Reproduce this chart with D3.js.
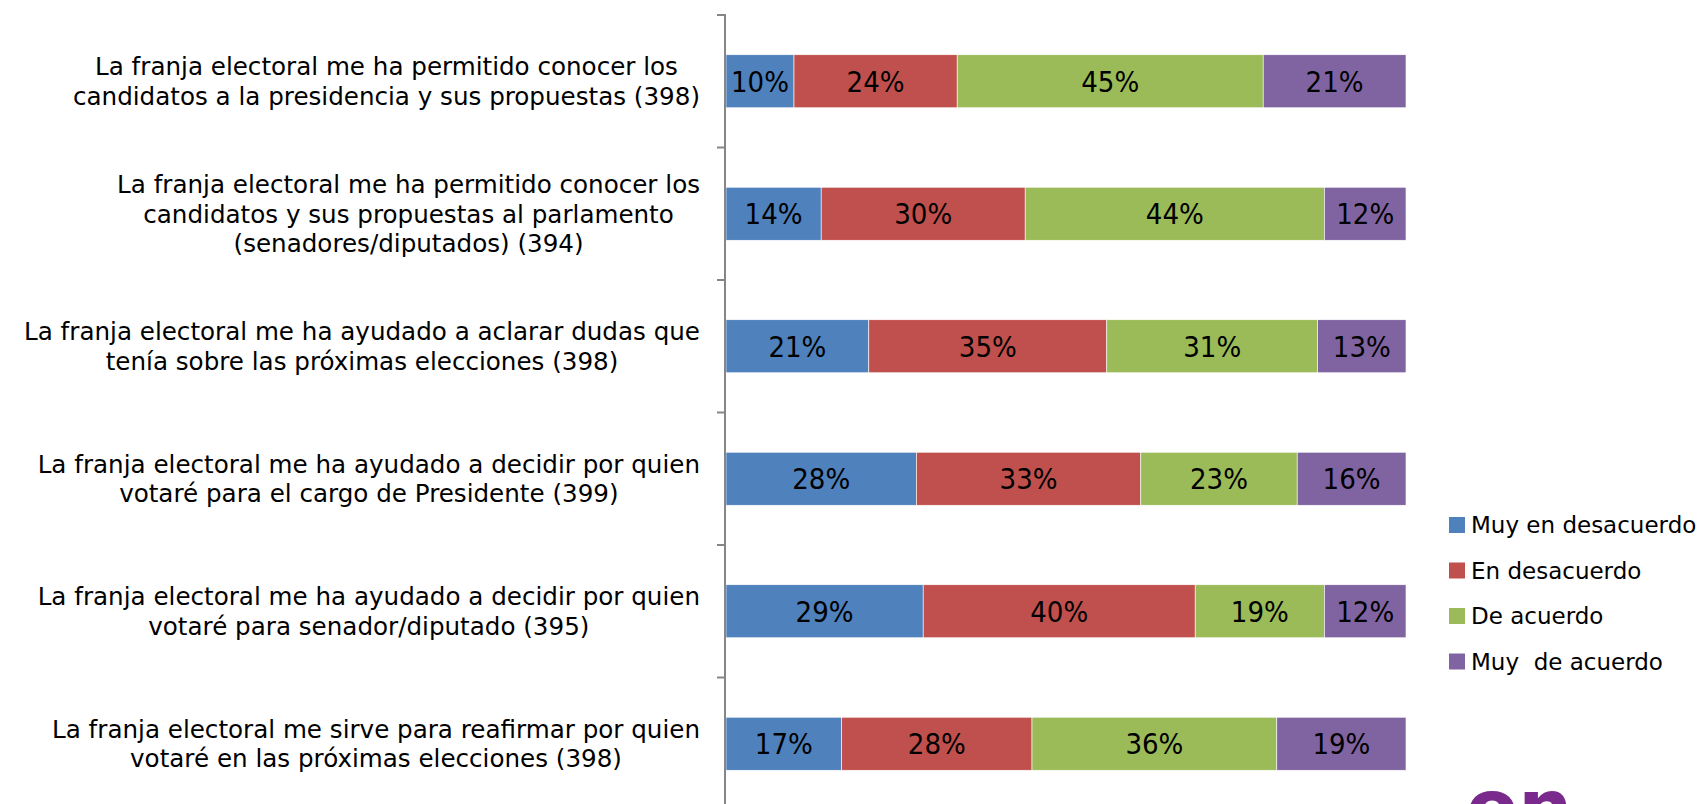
<!DOCTYPE html>
<html>
<head>
<meta charset="utf-8">
<script src="https://cdn.jsdelivr.net/npm/d3@7"></script>
<style>
  body { margin: 0; background: #fff; }
  svg { display: block; }
  .cat-label { font-family: "DejaVu Sans", sans-serif; font-size: 24.6px; fill: #000; }
  .legend text { font-family: "DejaVu Sans", sans-serif; font-size: 23px; fill: #000; white-space: pre; }
  .pct { font-family: "Liberation Sans Narrow", "DejaVu Sans Condensed", sans-serif; font-size: 29px; fill: #000; }
</style>
</head>
<body>
<script>
// question labels, one entry per line
const categories = [
  ["La franja electoral me ha permitido conocer los", "candidatos a la presidencia y sus propuestas (398)"],
  ["La franja electoral me ha permitido conocer los", "candidatos y sus propuestas al parlamento", "(senadores/diputados) (394)"],
  ["La franja electoral me ha ayudado a aclarar dudas que", "tenía sobre las próximas elecciones (398)"],
  ["La franja electoral me ha ayudado a decidir por quien", "votaré para el cargo de Presidente (399)"],
  ["La franja electoral me ha ayudado a decidir por quien", "votaré para senador/diputado (395)"],
  ["La franja electoral me sirve para reafirmar por quien", "votaré en las próximas elecciones (398)"]
];

const seriesNames = ["Muy en desacuerdo", "En desacuerdo", "De acuerdo", "Muy  de acuerdo"];
const muyDesacuerdo = [10, 14, 21, 28, 29, 17];
const desacuerdo = [24, 30, 35, 33, 40, 28];
const deAcuerdo = [45, 44, 31, 23, 19, 36];
const muyDeAcuerdo = [21, 12, 13, 16, 12, 19];

const colors = ["#4F81BD", "#C0504D", "#9BBB59", "#8064A2"];

const width = 1700, height = 804;

const rows = categories.map((c, i) => ({
  key: i,
  lines: c,
  values: [muyDesacuerdo[i], desacuerdo[i], deAcuerdo[i], muyDeAcuerdo[i]]
}));

const svg = d3.select("body")
  .append("svg")
  .attr("width", width)
  .attr("height", height);

const y = d3.scaleBand()
  .domain(rows.map(d => d.key))
  .range([15, 810])
  .paddingInner(0.6)
  .paddingOuter(0.3);

const x = d3.scaleLinear()
  .domain([0, 100])
  .range([726, 1406]);

// stacked segments
const stack = d3.stack()
  .keys([0, 1, 2, 3])
  .value((d, k) => d.values[k]);

const layers = stack(rows);

svg.append("g")
  .selectAll("g")
  .data(layers)
  .join("g")
  .attr("fill", (d, i) => colors[i])
  .selectAll("rect")
  .data(d => d)
  .join("rect")
  .attr("x", d => x(d[0]))
  .attr("y", d => y(d.data.key))
  .attr("width", d => x(d[1]) - x(d[0]))
  .attr("height", y.bandwidth())
  .attr("stroke", "#fff")
  .attr("stroke-width", 0.6);

// percent labels
svg.append("g")
  .selectAll("g")
  .data(layers)
  .join("g")
  .selectAll("text")
  .data(d => d)
  .join("text")
  .attr("class", "pct")
  .attr("x", d => (x(d[0]) + x(d[1])) / 2)
  .attr("y", d => y(d.data.key) + y.bandwidth() / 2)
  .attr("dy", "0.36em")
  .attr("text-anchor", "middle")
  .text(d => `${d[1] - d[0]}%`);

// category axis: line with ticks between bands
const axis = svg.append("g").attr("stroke", "#868686").attr("stroke-width", 2);
axis.append("line")
  .attr("x1", 725).attr("x2", 725)
  .attr("y1", 14).attr("y2", height);
const step = y.step();
const bounds = d3.range(rows.length + 1).map(i => y.range()[0] + i * step);
axis.selectAll(".tick")
  .data(bounds)
  .join("line")
  .attr("x1", 717).attr("x2", 725)
  .attr("y1", d => d).attr("y2", d => d);

// category labels: block right-aligned, lines centered within block
const lineH = 29.5;
const labelRight = 700;
const labelG = svg.append("g");
rows.forEach(r => {
  const g = labelG.append("g");
  const cy = y(r.key) + y.bandwidth() / 2;
  const top = cy - (r.lines.length - 1) * lineH / 2;
  const texts = g.selectAll("text")
    .data(r.lines)
    .join("text")
    .attr("class", "cat-label")
    .attr("y", (d, i) => top + i * lineH)
    .attr("dy", "0.36em")
    .attr("text-anchor", "middle")
    .text(d => d);
  let maxW = 0;
  texts.each(function() { maxW = Math.max(maxW, this.getComputedTextLength()); });
  texts.attr("x", labelRight - maxW / 2);
});

// legend
const legend = svg.append("g").attr("class", "legend");
const legendItem = legend.selectAll("g")
  .data(seriesNames)
  .join("g")
  .attr("transform", (d, i) => `translate(1449, ${525 + i * 45.5})`);
legendItem.append("rect")
  .attr("x", 0).attr("y", -8)
  .attr("width", 16).attr("height", 16)
  .attr("fill", (d, i) => colors[i]);
legendItem.append("text")
  .attr("x", 22)
  .attr("dy", "0.36em")
  .text(d => d);

// logo, cut off at bottom edge
svg.append("text")
  .attr("x", 1466)
  .attr("y", 834)
  .attr("font-family", "DejaVu Sans, sans-serif")
  .attr("font-weight", "bold")
  .attr("font-size", 76)
  .attr("fill", "#7a2a8c")
  .text("on");
</script>
</body>
</html>
